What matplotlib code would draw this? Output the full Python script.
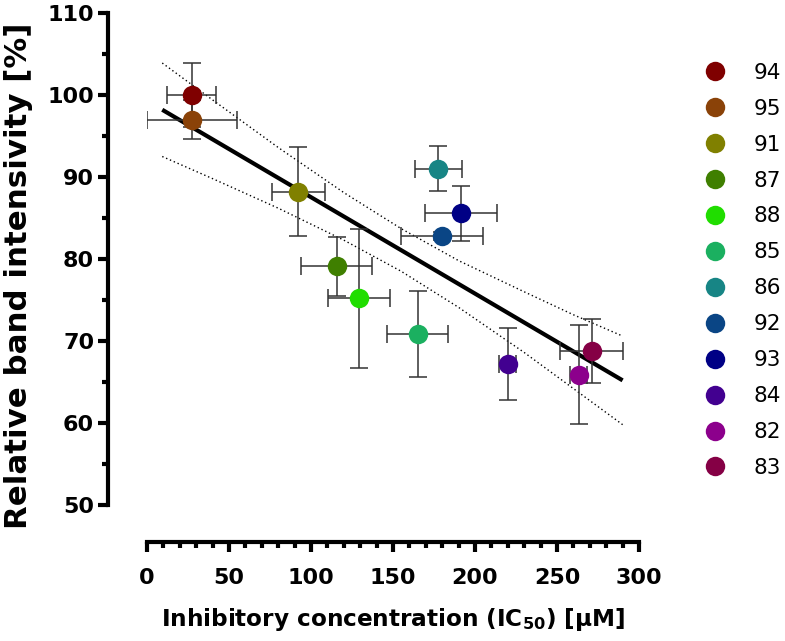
import numpy as np
import matplotlib
matplotlib.use("Agg")
import matplotlib.pyplot as plt
from matplotlib.lines import Line2D

plt.rcParams['font.family'] = ['DejaVu Sans']

labels = ['94', '95', '91', '87', '88', '85', '86', '92', '93', '84', '82', '83']
ic50 = [27.2, 27.6, 92.3, 115.7, 129.1, 165.2, 177.6, 180.0, 191.3, 219.9, 263.2, 271.1]
ic50_err = [15.0, 27.5, 16.0, 21.7, 19.0, 18.6, 14.2, 24.9, 22.0, 5.4, 5.0, 19.0]
intensity = [100.0, 97.0, 88.2, 79.1, 75.2, 70.8, 91.0, 82.8, 85.6, 67.2, 65.9, 68.8]
intensity_err = [3.9, 2.4, 5.4, 3.6, 8.5, 5.25, 2.75, 0.5, 3.35, 4.35, 6.05, 3.9]
colors = ['#7f0000', '#8a4208', '#808000', '#3f7f00', '#20dd00', '#1bb060',
          '#178585', '#0a4585', '#000085', '#420090', '#8c008c', '#850045']

# linear fit and its 95% confidence band
fit_x = [9.3, 290.0]
fit_y = [98.2, 65.2]
band_x = [9.3, 40, 80, 120, 155, 190, 230, 260, 290]
band_upper = [103.9, 99.4, 93.6, 88.1, 83.7, 79.8, 76.0, 73.2, 70.6]
band_lower = [92.5, 89.8, 86.2, 82.3, 78.5, 74.1, 68.6, 64.2, 59.8]

fig = plt.figure(figsize=(7.85, 6.41), dpi=100)
ax = fig.add_axes([147/785, 1-505/641, 492/785, 492/641])

ax.plot(band_x, band_upper, color='black', lw=1.0, ls=(0, (1, 2)), zorder=2)
ax.plot(band_x, band_lower, color='black', lw=1.0, ls=(0, (1, 2)), zorder=2)
ax.plot(fit_x, fit_y, color='black', lw=3.0, zorder=3, solid_capstyle='butt')

handles = []
for xi, xe, yi, ye, c, lab in zip(ic50, ic50_err, intensity, intensity_err, colors, labels):
    ax.errorbar(xi, yi, xerr=xe, yerr=ye, fmt='none', ecolor='#333333',
                elinewidth=1.1, capsize=6.2, capthick=1.1, zorder=4)
    ax.plot(xi, yi, 'o', ms=14, color=c, mec='none', zorder=5)
    handles.append(Line2D([], [], marker='o', ls='none', ms=14, color=c, mec='none', label=lab))

ax.set_xlim(0, 300)
ax.set_ylim(50, 110)
for sp in ['top', 'right']:
    ax.spines[sp].set_visible(False)
ax.spines['left'].set_position(('outward', 28))
ax.spines['bottom'].set_position(('outward', 26.5))
ax.spines['left'].set_bounds(50, 110)
ax.spines['bottom'].set_bounds(0, 300)
for sp in ['left', 'bottom']:
    ax.spines[sp].set_linewidth(3.0)

ax.set_xticks(np.arange(0, 301, 50))
ax.set_xticks(np.arange(0, 301, 10), minor=True)
ax.set_yticks(np.arange(50, 111, 10))
ax.set_yticks(np.arange(55, 110, 10), minor=True)
ax.tick_params(which='major', length=7.5, width=3.0, labelsize=16, pad=2.5)
ax.tick_params(axis='x', which='major', pad=11)
ax.tick_params(which='minor', length=4, width=3.0)
for lbl in ax.get_xticklabels() + ax.get_yticklabels():
    lbl.set_fontweight('bold')

ax.set_xlabel('Inhibitory concentration (IC$_\\mathbf{50}$) [µM]', fontsize=16.7,
              fontweight='bold')
ax.xaxis.set_label_coords(0.5, -0.205)
ax.set_ylabel('Relative band intensivity [%]', fontsize=22.2, fontweight='bold')
ax.yaxis.set_label_coords(-0.232, 0.465)

leg = fig.legend(handles=handles, loc='upper left', bbox_to_anchor=(693/785, 1-52/641),
                 frameon=False, fontsize=15.5, labelspacing=0.74, handletextpad=1.3,
                 handlelength=1.0, borderpad=0)

fig.savefig('out.png', dpi=100)
